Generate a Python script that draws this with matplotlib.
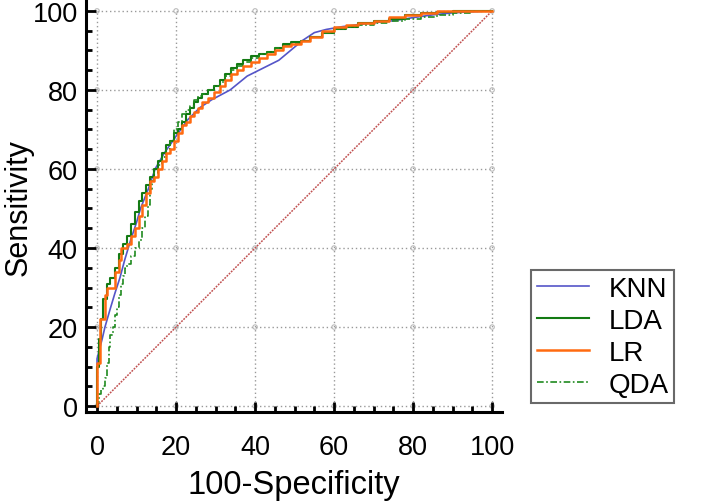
import numpy as np
import matplotlib
matplotlib.use('Agg')
import matplotlib.pyplot as plt
from matplotlib.ticker import MultipleLocator

plt.rcParams['font.family'] = ['Liberation Sans', 'DejaVu Sans']

# ROC curves (100-specificity, sensitivity)
knn_x = [0, 0, 1.3, 2, 3.3, 4.5, 5.8, 7, 8.5, 10, 11, 13, 14.7, 17, 20.5, 23, 26, 29, 33.7, 38,
         42, 46, 49, 52, 55, 58, 62, 66, 70, 75, 80, 85, 90, 95, 100]
knn_y = [0, 12, 17, 20, 24.5, 28.5, 32.5, 37, 42, 46.5, 50, 55, 60, 64, 69, 72.5, 75.5, 77.5, 80, 83.5,
         85.5, 87.5, 90, 92.5, 94.5, 95.3, 96, 96.5, 97, 97.5, 98.3, 99, 99.5, 99.8, 100]

lda_x = [0, 0.5, 1, 1.6, 2.5, 3.3, 4.5, 5.5, 6.5, 7.5, 8.5, 9.5, 10.5, 11.5, 12.5, 13.5, 14.5, 15.5,
         16.5, 17.5, 18.5, 19.5, 20.5, 21.5, 22.5, 23.5, 24.5, 25.5, 26.5, 28, 29.5, 31, 32.5, 34,
         35.5, 37, 39, 41, 43, 45, 47, 49, 51.5, 54, 57, 60, 63, 66, 70, 74, 78, 82, 86, 90, 100]
lda_y = [0, 10, 17, 22, 27, 31, 32.5, 35, 38.5, 41, 43, 46, 49, 52, 54, 56, 58, 60,
         62, 64, 66, 67, 69, 70, 72, 74, 75.5, 77, 78, 79, 80, 81, 82.5, 84,
         85.5, 86.5, 87.5, 88.5, 89, 89.5, 90.5, 91.5, 92, 92.5, 93.5, 94.5, 95.5, 96, 97, 97.5, 98, 99, 99.5, 99.8, 100]

lr_x = [0, 0.8, 2, 2.6, 4.6, 5.5, 6, 7.5, 8.5, 9.5, 10.5, 11.5, 12.5, 13.5, 14.5, 15.5, 16.5, 17.5,
        18.5, 19.5, 20.5, 21.5, 22.5, 23.5, 24.5, 25.5, 26.5, 28, 29.5, 31, 32.5, 34, 35.5, 37, 39,
        41, 43, 45, 47, 49, 51.5, 54, 57, 60, 63, 66, 70, 74, 78, 82, 86, 90, 100]
lr_y = [0, 11, 22, 28, 30, 34, 37, 40, 41, 43, 45, 48, 51, 54, 57, 58, 60, 62,
        64, 65, 67, 69, 71, 72, 73.5, 74.5, 75.5, 77, 78, 79.5, 81, 82.5, 84, 85, 86,
        87, 88, 89, 90, 91, 91.5, 92.5, 93.5, 95, 96, 96.5, 97, 97.5, 98.5, 99, 99.5, 100, 100]

qda_x = [0, 0.5, 1, 1.5, 2, 2.5, 3, 3.3, 4, 4.5, 5, 5.5, 6, 6.5, 7, 7.5, 8.5, 9.5, 10.5, 11.5,
         12.2, 12.8, 13.3, 13.8, 14.5, 15.5, 16.5, 17.5, 18.5, 19.5, 20.5, 21.5, 22.5, 23.5, 24.5,
         25.5, 26.5, 28, 29.5, 31, 32.5, 34, 35.5, 37, 39, 41, 43, 45, 47, 49, 51.5, 54, 57, 60,
         63, 66, 70, 74, 78, 82, 86, 90, 95, 100]
qda_y = [0, 1, 3, 4, 5, 7, 11, 15, 18, 20, 23, 25, 28, 31, 33, 35, 36, 38, 40, 42,
         45, 48, 51, 55, 57, 59, 61, 63, 65, 67, 70, 72, 74, 75, 76,
         77.5, 78.5, 79, 80, 81, 82, 83.5, 85, 86, 87, 88, 89, 89.5, 90.5, 91, 91.5, 92.5, 93.5, 94.5,
         95.5, 96, 96.5, 97, 97.5, 98, 98.5, 99, 99.5, 100]

ticks = [0, 20, 40, 60, 80, 100]

fig = plt.figure(figsize=(7.08, 5.02), dpi=100)
ax = fig.add_axes([86 / 708, 1 - 413 / 502, 416 / 708, 411 / 502])

# grid only inside the 0-100 square
for t in ticks:
    ax.plot([0, 100], [t, t], color='#999999', lw=1.0, ls=(0, (1, 2)), zorder=1)
    ax.plot([t, t], [0, 100], color='#999999', lw=1.0, ls=(0, (1, 2)), zorder=1)
gx, gy = np.meshgrid(ticks, ticks)
ax.scatter(gx.ravel(), gy.ravel(), s=10, facecolors='none', edgecolors='#bbbbbb', lw=0.8, zorder=1)

ax.plot([0, 100], [0, 100], color='#c05050', lw=1.1, ls=(0, (1.2, 0.8)), zorder=2)

ax.plot(knn_x, knn_y, color='#5555c8', lw=1.2, label='KNN', zorder=3)
ax.plot(lda_x, lda_y, color='#137a13', lw=1.5, drawstyle='steps-pre', label='LDA', zorder=4)
ax.plot(lr_x, lr_y, color='#ff6a10', lw=1.8, drawstyle='steps-pre', label='LR', zorder=5)
ax.plot(qda_x, qda_y, color='#1f8a1f', lw=1.2, drawstyle='steps-pre', ls=(0, (4, 1.5, 1, 1.5)),
        label='QDA', zorder=4)

ax.set_xlim(-2.8, 102.5)
ax.set_ylim(-1.5, 102.5)
ax.spines['top'].set_visible(False)
ax.spines['right'].set_visible(False)
for s in ('left', 'bottom'):
    ax.spines[s].set_linewidth(2.2)
ax.xaxis.set_major_locator(MultipleLocator(20))
ax.yaxis.set_major_locator(MultipleLocator(20))
ax.xaxis.set_minor_locator(MultipleLocator(5))
ax.yaxis.set_minor_locator(MultipleLocator(5))
ax.tick_params(which='major', direction='in', length=7.5, width=2, labelsize=19.5)
ax.tick_params(axis='x', which='major', pad=16)
ax.tick_params(axis='y', which='major', pad=6)
ax.tick_params(which='minor', direction='in', length=4.5, width=2)

ax.set_xlabel('100-Specificity', fontsize=23.5, labelpad=6)
ax.set_ylabel('Sensitivity', fontsize=22)
ax.yaxis.set_label_coords(-0.125, 0.5)

leg = ax.legend(loc='upper left', bbox_to_anchor=(531 / 708, 1 - 271 / 502),
                bbox_transform=fig.transFigure, fontsize=20, frameon=True, fancybox=False,
                handlelength=1.9, handletextpad=0.7, labelspacing=0.22, borderpad=0.2,
                borderaxespad=0)
leg.get_frame().set_edgecolor('#444444')
leg.get_frame().set_linewidth(1.5)

fig.savefig('out.png', dpi=100)
